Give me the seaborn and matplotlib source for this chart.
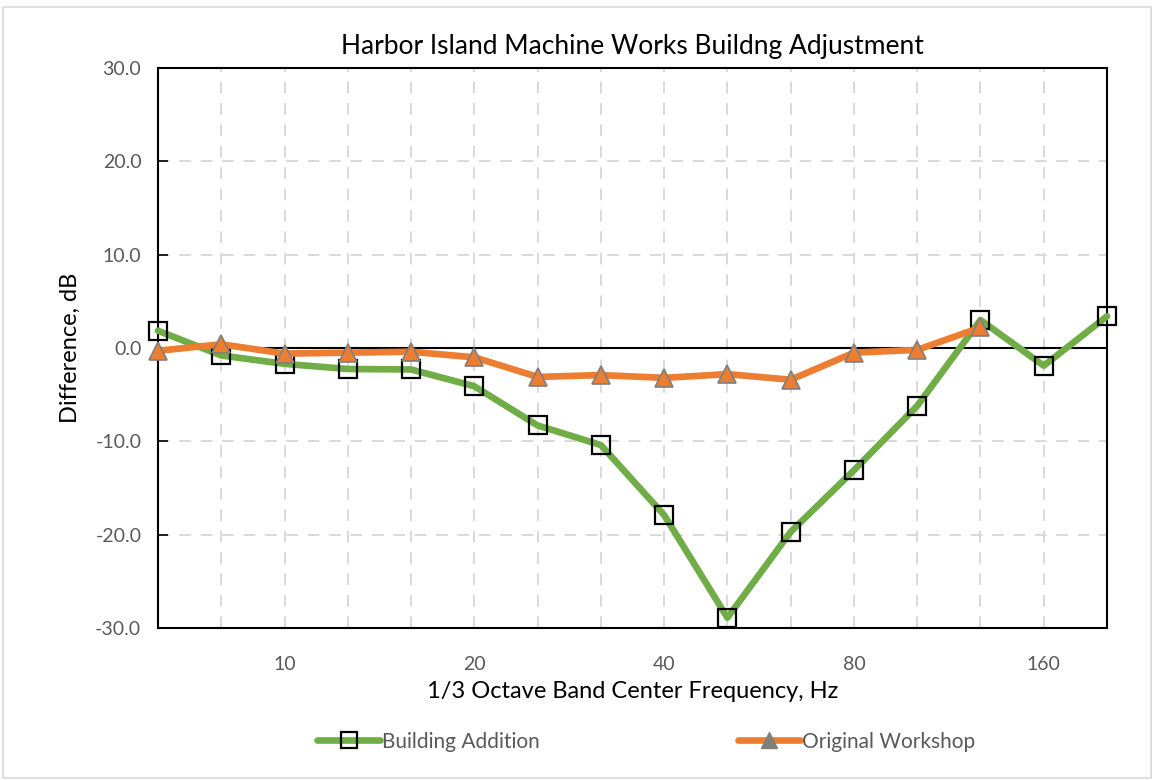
import numpy as np
import pandas as pd
import matplotlib
matplotlib.use("Agg")
import matplotlib.pyplot as plt
import seaborn as sns
from matplotlib.lines import Line2D
from matplotlib.patches import Rectangle

# 1/3 octave bands, Hz
freqs = ["6.3", "8", "10", "12.5", "16", "20", "25", "31.5", "40", "50",
         "63", "80", "100", "125", "160", "200"]
labeled = ["10", "20", "40", "80", "160"]

building_addition = [1.85, -0.8, -1.7, -2.25, -2.3, -4.1, -8.3, -10.4, -17.9,
                     -28.9, -19.7, -13.1, -6.2, 3.0, -1.9, 3.4]
original_workshop = [-0.3, 0.4, -0.6, -0.5, -0.4, -1.0, -3.1, -2.9, -3.2,
                     -2.8, -3.4, -0.5, -0.2, 2.2]

sns.set_theme(style="white")
plt.rcParams['font.family'] = ['Lato', 'DejaVu Sans']

green = "#70AD47"
orange = "#ED7D31"
txt = "#595959"

df_b = pd.DataFrame({"pos": np.arange(len(building_addition)), "val": building_addition})
df_o = pd.DataFrame({"pos": np.arange(len(original_workshop)), "val": original_workshop})

fig = plt.figure(figsize=(11.54, 7.8), dpi=100)
ax = fig.add_axes([0.1369, 0.1949, 0.9593 - 0.1369, 0.9128 - 0.1949])

sns.lineplot(data=df_o, x="pos", y="val", ax=ax, color=orange, linewidth=4.8,
             marker="^", markersize=13, markerfacecolor=orange,
             markeredgecolor="#7F7F7F", markeredgewidth=1.2, zorder=4, clip_on=False)
sns.lineplot(data=df_b, x="pos", y="val", ax=ax, color=green, linewidth=4.8,
             marker="s", markersize=12.5, markerfacecolor="none",
             markeredgecolor="black", markeredgewidth=1.6, zorder=3, clip_on=False)

ax.set_xlim(0, len(freqs) - 1)
ax.set_ylim(-30, 30)
ax.set_xticks(np.arange(len(freqs)))
ax.set_xticklabels([f if f in labeled else "" for f in freqs], color=txt, fontsize=14)
ax.tick_params(axis="x", length=0, pad=20)
ax.set_yticks(np.arange(-30, 31, 10))
ax.set_yticklabels([f"{v:.1f}" for v in np.arange(-30, 31, 10)], color=txt, fontsize=14)
ax.tick_params(axis="y", direction="in", length=7, width=1.2, color="black", pad=12, left=True)

ax.grid(True, color="#D9D9D9", linestyle=(0, (6, 5)), linewidth=1.4)
ax.set_axisbelow(True)
for s in ax.spines.values():
    s.set_color("black")
    s.set_linewidth(1.5)

# zero line with category ticks pointing up
ax.axhline(0, color="black", linewidth=1.5, zorder=2)
sec = ax.secondary_xaxis(0.5)
sec.xaxis.set_ticks_position("bottom")
sec.set_xticks(np.arange(len(freqs)))
sec.set_xticklabels([])
sec.tick_params(bottom=True, top=False, direction="in", length=6, width=1.2, color="black")
for s in sec.spines.values():
    s.set_visible(False)

ax.set_xlabel("1/3 Octave Band Center Frequency, Hz", fontsize=17, color="black", labelpad=6)
ax.set_ylabel("Difference, dB", fontsize=17, color="black", labelpad=10)
ax.set_title("Harbor Island Machine Works Buildng Adjustment", fontsize=19, color="black", pad=10)

handles = [
    Line2D([], [], color=green, linewidth=4.8, marker="s", markersize=11,
           markerfacecolor="none", markeredgecolor="black", markeredgewidth=1.6),
    Line2D([], [], color=orange, linewidth=4.8, marker="^", markersize=11,
           markerfacecolor="#7F7F7F", markeredgecolor="#7F7F7F"),
]
leg = fig.legend(handles, ["Building Addition", "Original Workshop"], loc="center",
                 bbox_to_anchor=(0.56, 0.049), ncol=2, frameon=False, fontsize=15,
                 handlelength=3.0, handletextpad=0.1, columnspacing=9.5)
for t in leg.get_texts():
    t.set_color(txt)

fig.patches.append(Rectangle((0.003, 0.003), 0.994, 0.988, transform=fig.transFigure,
                             fill=False, edgecolor="#D9D9D9", linewidth=1.2))

fig.savefig("out.png", dpi=100)
